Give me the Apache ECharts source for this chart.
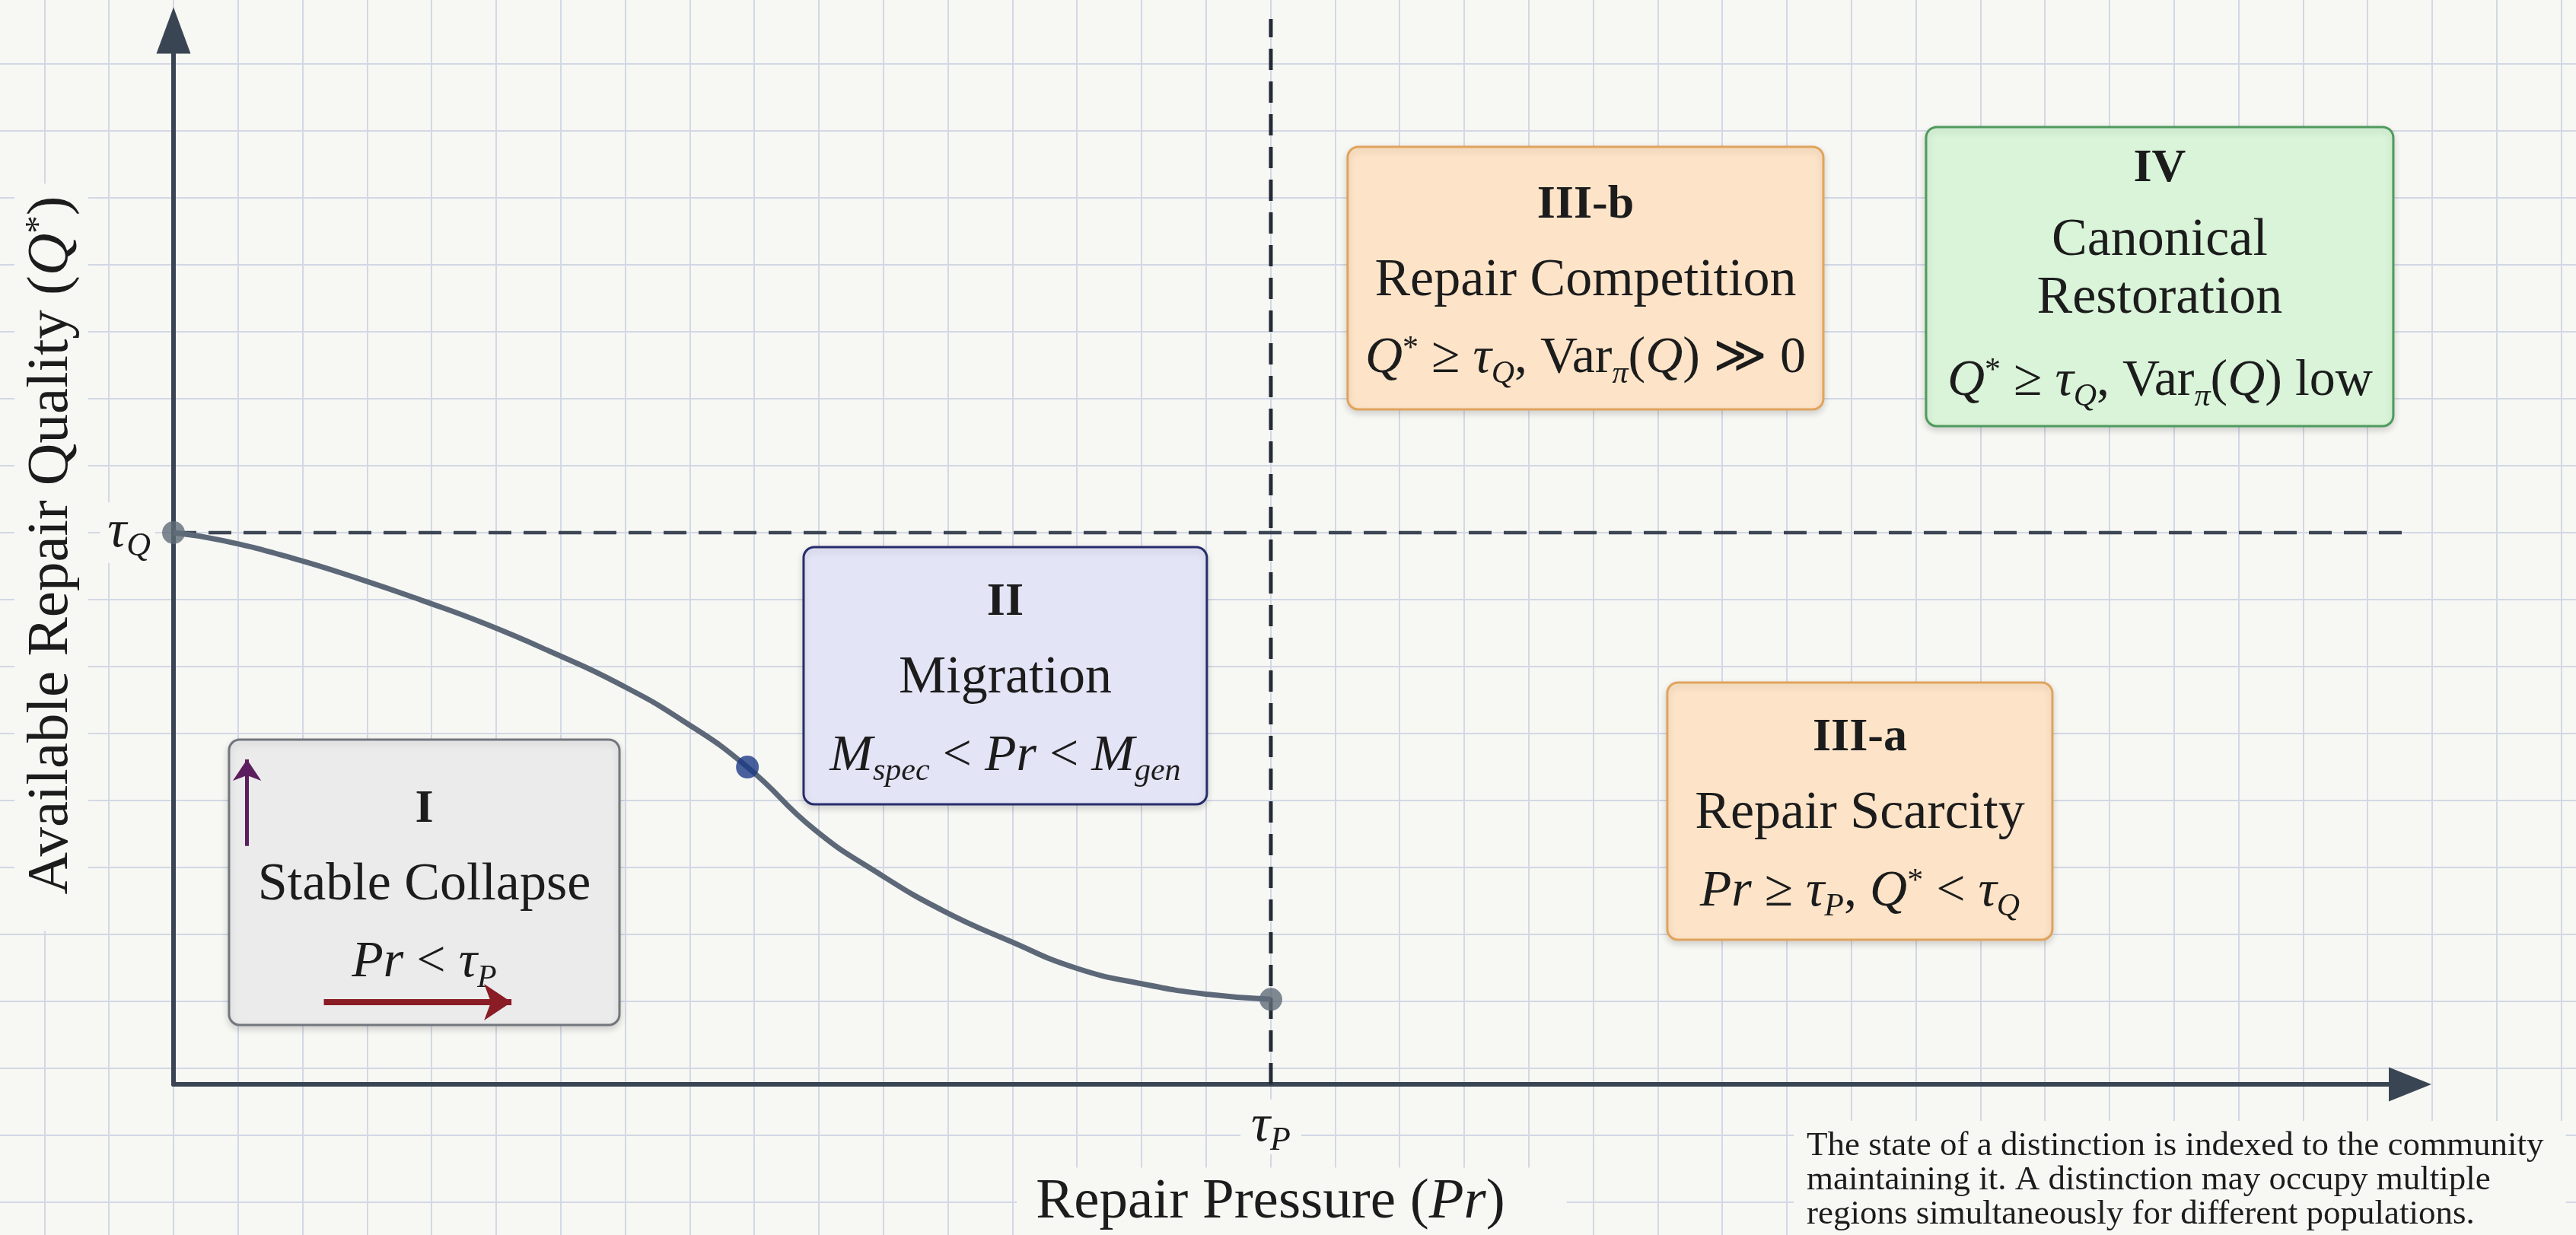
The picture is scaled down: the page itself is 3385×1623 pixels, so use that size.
<!DOCTYPE html>
<html>
<head>
<meta charset="utf-8">
<title>Repair regimes</title>
<script src="https://cdn.jsdelivr.net/npm/echarts@6/dist/echarts.min.js"></script>
<style>
  html, body { margin: 0; padding: 0; background: #f7f7f4; }
  #chart { width: 3385px; height: 1623px; }
</style>
</head>
<body>
<div id="chart"></div>
<script>
// thresholds, normalised so that tau_P = tau_Q = 1
const tauP = 1;
const tauQ = 1;

// available repair quality Q* along repair pressure Pr
const curvePr = [0, 0.044, 0.108, 0.168, 0.228, 0.285, 0.345, 0.405, 0.465, 0.523, 0.584, 0.642, 0.702, 0.763, 0.822, 0.883, 0.943, 1.0];
const curveQ  = [1.0, 0.986, 0.954, 0.917, 0.876, 0.834, 0.783, 0.727, 0.658, 0.575, 0.462, 0.383, 0.314, 0.259, 0.211, 0.182, 0.163, 0.154];

// marked points on the curve: start, migration point, end at tau_P
const markerPr = [0, 0.523, 1.0];
const markerQ  = [1.0, 0.575, 0.154];

// regions
const regionTitles = ['I', 'II', 'III-b', 'IV', 'III-a'];
const regionNames = ['Stable Collapse', 'Migration', 'Repair Competition', 'Canonical\nRestoration', 'Repair Scarcity'];
const regionConditions = [
  '{i|Pr}{r| < }{i|τ}{sb|P}',
  '{i|M}{sb|spec}{r| < }{i|Pr}{r| < }{i|M}{sb|gen}',
  '{i|Q}{sp|*}{r| ≥ }{i|τ}{sb|Q}{r|, Var}{sb|π}{r|(}{i|Q}{r|) ≫ 0}',
  '{i|Q}{sp|*}{r| ≥ }{i|τ}{sb|Q}{r|, Var}{sb|π}{r|(}{i|Q}{r|) low}',
  '{i|Pr}{r| ≥ }{i|τ}{sb|P}{r|, }{i|Q}{sp|*}{r| < }{i|τ}{sb|Q}'
];
// region extents in (Pr, Q*) units
const regionPr0 = [0.0506, 0.5742, 1.0700, 1.5971, 1.3613];
const regionPr1 = [0.4064, 0.9417, 1.5035, 2.0229, 1.7122];
const regionQ0  = [0.1076, 0.5076, 1.2234, 1.1931, 0.2621];
const regionQ1  = [0.6248, 0.9738, 1.6993, 1.7352, 0.7283];

// small drift arrows inside region I
const pressureArrow = [[0.137, 0.149], [0.308, 0.149]];
const qualityArrow  = [[0.067, 0.432], [0.067, 0.589]];

// reach of the threshold lines
const tauQLineEnd = 2.089;
const tauPLineTop = 1.931;

const footnote = [
  'The state of a distinction is indexed to the community',
  'maintaining it. A distinction may occupy multiple',
  'regions simultaneously for different populations.'
];

const paper = '#f7f7f4';
const ink = '#1c1c1c';
const axisColor = '#3a4553';
const serif = '"Liberation Serif", "DejaVu Serif", serif';

const boxStyles = [
  { fill: '#ebebeb', stroke: '#72777e' },
  { fill: '#e4e4f7', stroke: '#262d6b' },
  { fill: '#fde4c8', stroke: '#e0a45c' },
  { fill: '#d9f4d9', stroke: '#4f9a5c' },
  { fill: '#fde4c8', stroke: '#e0a45c' }
];

const boxRich = {
  h:    { fontFamily: serif, fontSize: 62, fontWeight: 'bold', lineHeight: 100, fill: ink },
  hc:   { fontFamily: serif, fontSize: 62, fontWeight: 'bold', lineHeight: 112, fill: ink },
  b:    { fontFamily: serif, fontSize: 70, lineHeight: 100, fill: ink },
  c:    { fontFamily: serif, fontSize: 70, lineHeight: 76, fill: ink },
  tall: { fontFamily: serif, fontSize: 4, lineHeight: 142, fill: ink },
  r:    { fontFamily: serif, fontSize: 68, lineHeight: 104, fill: ink },
  i:    { fontFamily: serif, fontSize: 68, fontStyle: 'italic', lineHeight: 104, fill: ink },
  sb:   { fontFamily: serif, fontSize: 42, fontStyle: 'italic', padding: [40, 0, 0, 0], lineHeight: 104, fill: ink },
  sp:   { fontFamily: serif, fontSize: 42, padding: [0, 0, 26, 0], lineHeight: 104, fill: ink }
};

function boxText(i) {
  const lines = regionNames[i].split('\n');
  const compact = lines.length > 1;
  let s = '{' + (compact ? 'hc' : 'h') + '|' + regionTitles[i] + '}';
  lines.forEach(function (l) { s += '\n{' + (compact ? 'c' : 'b') + '|' + l + '}'; });
  s += '\n' + (compact ? '{tall| }' : '') + regionConditions[i];
  return s;
}

function renderRegion(params, api) {
  const i = params.dataIndex;
  const tl = api.coord([api.value(0), api.value(3)]);
  const br = api.coord([api.value(2), api.value(1)]);
  const st = boxStyles[i];
  return {
    type: 'rect',
    shape: { x: tl[0], y: tl[1], width: br[0] - tl[0], height: br[1] - tl[1], r: 14 },
    style: { fill: st.fill, stroke: st.stroke, lineWidth: 3, shadowBlur: 10, shadowOffsetY: 4, shadowColor: 'rgba(0,0,0,0.15)' },
    textContent: {
      style: { text: boxText(i), rich: boxRich, fill: ink, fontFamily: serif, align: 'center', verticalAlign: 'middle' }
    },
    textConfig: { position: 'inside', offset: [0, 6] }
  };
}

const tauRich = {
  t: { fontFamily: serif, fontSize: 70, fontStyle: 'italic', color: ink, lineHeight: 72 },
  s: { fontFamily: serif, fontSize: 44, fontStyle: 'italic', color: ink, padding: [36, 0, 0, 0], lineHeight: 72 }
};

const chart = echarts.init(document.getElementById('chart'), null, { renderer: 'canvas' });

chart.setOption({
  backgroundColor: paper,
  animation: false,
  title: {
    text: footnote.join('\n'),
    left: 2357,
    top: 1473,
    padding: [11, 29, 20, 17],
    backgroundColor: paper,
    textStyle: { fontFamily: serif, fontSize: 45, fontWeight: 'normal', color: ink, lineHeight: 45 }
  },
  grid: [
    { left: 228, right: 218, top: 40, bottom: 198, containLabel: false, outerBoundsMode: 'none' },
    { left: -26.4, right: -65.4, top: -4, bottom: -45, containLabel: false, outerBoundsMode: 'none', show: false }
  ],
  xAxis: [
    {
      gridIndex: 0, type: 'value', min: 0, max: 2.0382, z: 1,
      name: 'Repair Pressure ({ni|Pr})',
      nameLocation: 'middle', nameGap: 109.5, nameMoveOverlap: false,
      nameTextStyle: {
        fontFamily: serif, fontSize: 75, color: ink, backgroundColor: paper, padding: [8, 81, 8, 25],
        rich: { ni: { fontFamily: serif, fontSize: 75, fontStyle: 'italic', color: ink } }
      },
      axisLine: { show: true, onZero: true, symbol: ['none', 'triangle'], symbolSize: [45, 56], lineStyle: { color: axisColor, width: 6 } },
      axisTick: { show: false },
      splitLine: { show: false },
      axisLabel: {
        show: true, customValues: [tauP], margin: 20,
        formatter: function () { return '{t|τ}{s|P}'; },
        backgroundColor: paper, padding: [0, 14, 0, 14], rich: tauRich
      }
    },
    {
      gridIndex: 1, type: 'value', min: 0, max: 41, interval: 1, z: 0, silent: true,
      axisLine: { show: false }, axisTick: { show: false }, axisLabel: { show: false },
      splitLine: { show: true, lineStyle: { color: '#d2d8e4', width: 2 } }
    }
  ],
  yAxis: [
    {
      gridIndex: 0, type: 'value', min: 0, max: 1.9103, z: 1,
      name: 'Available Repair Quality ({qi|Q}{qs|*})',
      nameLocation: 'middle', nameRotate: 90, nameGap: 112, nameMoveOverlap: false,
      nameTextStyle: {
        fontFamily: serif, fontSize: 77, color: ink, backgroundColor: paper, padding: [10, 16, 10, 48],
        rich: {
          qi: { fontFamily: serif, fontSize: 77, fontStyle: 'italic', color: ink },
          qs: { fontFamily: serif, fontSize: 47, color: ink, padding: [0, 0, 30, 0] }
        }
      },
      axisLine: { show: true, onZero: true, symbol: ['none', 'triangle'], symbolSize: [45, 61], lineStyle: { color: axisColor, width: 6 } },
      axisTick: { show: false },
      splitLine: { show: false },
      axisLabel: {
        show: true, customValues: [tauQ], margin: 24,
        formatter: function () { return '{t|τ}{s|Q}'; },
        backgroundColor: paper, padding: [4, 6, 4, 10], rich: tauRich
      }
    },
    {
      gridIndex: 1, type: 'value', min: 0, max: 19, interval: 1, z: 0, silent: true,
      axisLine: { show: false }, axisTick: { show: false }, axisLabel: { show: false },
      splitLine: { show: true, lineStyle: { color: '#d2d8e4', width: 2 } }
    }
  ],
  series: [
    {
      name: 'tauQ', type: 'line', xAxisIndex: 0, yAxisIndex: 0, clip: false, silent: true, z: 2,
      symbol: 'none',
      data: [[0, tauQ], [tauQLineEnd, tauQ]],
      lineStyle: { color: '#3d4653', width: 4.5, type: [30, 16] }
    },
    {
      name: 'tauP', type: 'line', xAxisIndex: 0, yAxisIndex: 0, clip: false, silent: true, z: 2,
      symbol: 'none',
      data: [[tauP, 0], [tauP, tauPLineTop]],
      lineStyle: { color: '#232b36', width: 5, type: [28, 15] }
    },
    {
      name: 'Q*', type: 'line', xAxisIndex: 0, yAxisIndex: 0, z: 3, silent: true,
      symbol: 'none', smooth: 0.5,
      data: curvePr.map(function (x, i) { return [x, curveQ[i]]; }),
      lineStyle: { color: '#5c6877', width: 7 }
    },
    {
      name: 'markers', type: 'scatter', xAxisIndex: 0, yAxisIndex: 0, z: 4, silent: true, clip: false,
      symbolSize: 30,
      data: markerPr.map(function (x, i) {
        return { value: [x, markerQ[i]], itemStyle: { color: i === 1 ? '#1b3a86' : '#5f6b78' } };
      })
    },
    {
      name: 'regions', type: 'custom', xAxisIndex: 0, yAxisIndex: 0, z: 5, silent: true,
      encode: { x: [0, 2], y: [1, 3] },
      renderItem: renderRegion,
      data: regionPr0.map(function (x, i) { return [x, regionQ0[i], regionPr1[i], regionQ1[i]]; })
    },
    {
      name: 'pressure drift', type: 'lines', coordinateSystem: 'cartesian2d', xAxisIndex: 0, yAxisIndex: 0,
      z: 6, silent: true, symbol: ['none', 'arrow'], symbolSize: 36,
      lineStyle: { color: '#8a1c26', width: 8, opacity: 1, curveness: 0 },
      data: [{ coords: pressureArrow }]
    },
    {
      name: 'quality drift', type: 'lines', coordinateSystem: 'cartesian2d', xAxisIndex: 0, yAxisIndex: 0,
      z: 6, silent: true, symbol: ['none', 'arrow'], symbolSize: 28,
      lineStyle: { color: '#5b1f5f', width: 5, opacity: 1, curveness: 0 },
      data: [{ coords: qualityArrow }]
    }
  ]
});
</script>
</body>
</html>
